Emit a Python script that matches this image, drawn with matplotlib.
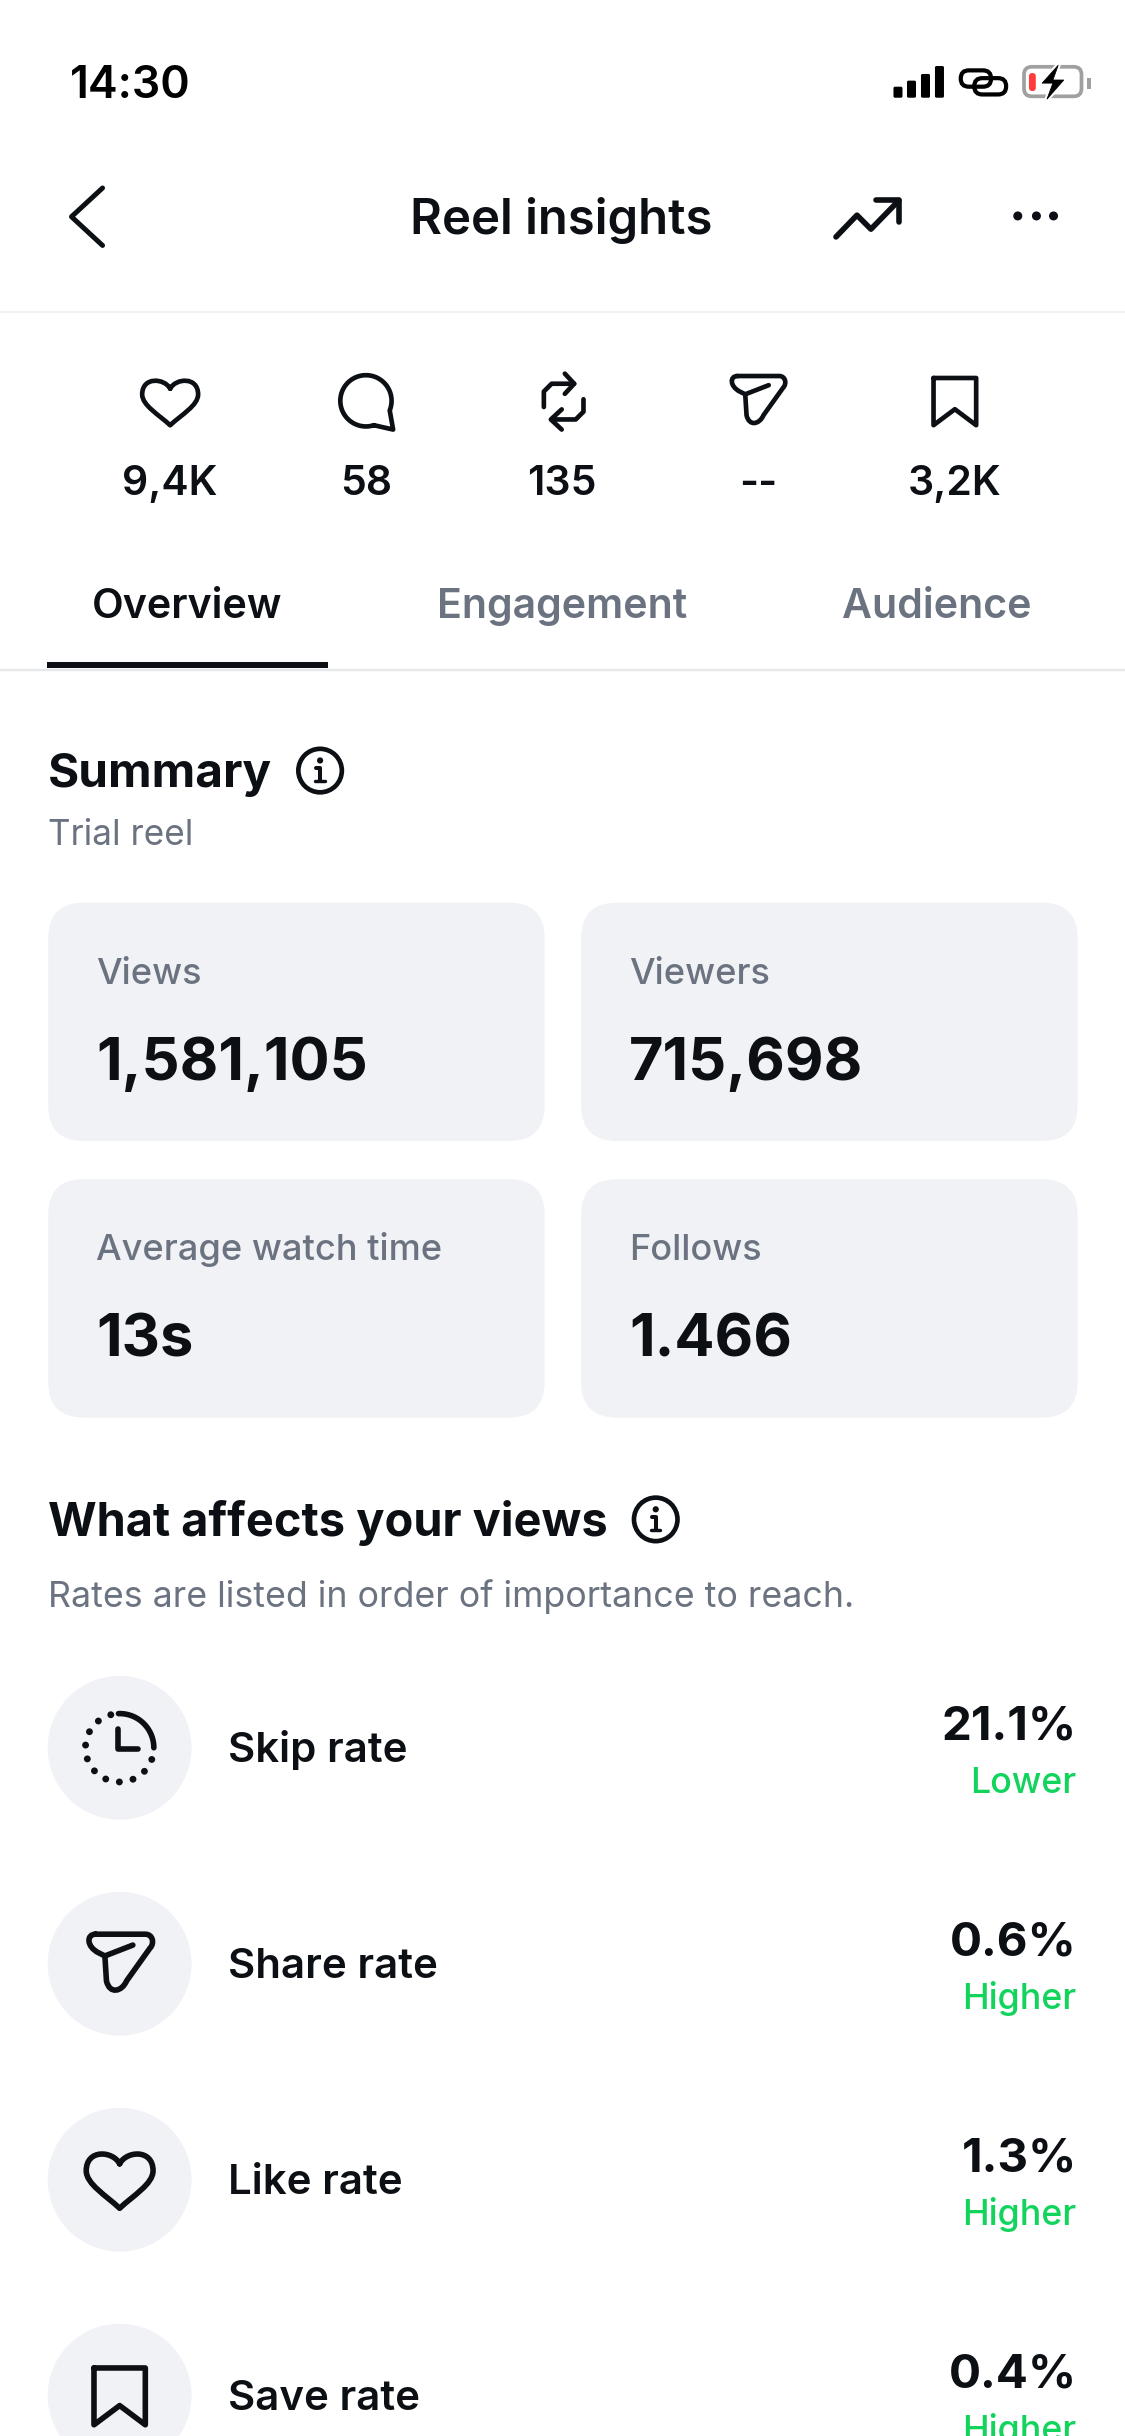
import numpy as np
import matplotlib
matplotlib.use('Agg')
import matplotlib.pyplot as plt
from matplotlib.patches import FancyBboxPatch, Circle, PathPatch, Polygon, Rectangle
from matplotlib.path import Path

plt.rcParams['font.family'] = ['Inter', 'DejaVu Sans']

# values
status_time = '14:30'
page_title = 'Reel insights'
stat_values = ['9,4K', '58', '135', '--', '3,2K']
tab_names = ['Overview', 'Engagement', 'Audience']
card_titles = ['Views', 'Viewers', 'Average watch time', 'Follows']
card_values = ['1,581,105', '715,698', '13s', '1.466']
rate_names = ['Skip rate', 'Share rate', 'Like rate', 'Save rate']
rate_values = ['21.1%', '0.6%', '1.3%', '0.4%']
rate_notes = ['Lower', 'Higher', 'Higher', 'Higher']

INK = '#0c1014'
GREY = '#6b7380'
CARD = '#f1f2f6'
LINE = '#e6e8ec'
GREEN = '#12d45c'

K = 1125 / 724.


def fs(px):
    return px * K * 0.72


def lw(px):
    return px * K * 0.72


fig = plt.figure(figsize=(11.25, 24.36), dpi=100, facecolor='white')
ax = fig.add_axes([0, 0, 1, 1])
ax.set_xlim(0, 724)
ax.set_ylim(1568, 0)
ax.axis('off')


def txt(x, y, s, px, color=INK, weight='normal', ha='left'):
    ax.text(x, y, s, fontsize=fs(px), color=color, fontweight=weight, ha=ha, va='baseline')


def stroke(xs, ys, w=3.0, color=INK):
    ax.plot(xs, ys, color=color, lw=lw(w), solid_capstyle='round', solid_joinstyle='round')


def curve(verts, codes, w=3.0, color=INK):
    ax.add_patch(PathPatch(Path(verts, codes), fc='none', ec=color, lw=lw(w), joinstyle='round', capstyle='round'))


def heart(cx, cy, sx, sy, w=3.0):
    v = np.array([(0, -.55), (-.2, -.98), (-1, -1.05), (-1, -.32),
                  (-1, .12), (-.4, .5), (0, .92),
                  (.4, .5), (1, .12), (1, -.32),
                  (1, -1.05), (.2, -.98), (0, -.55)])
    c = [Path.MOVETO] + [Path.CURVE4] * 12
    curve(np.c_[cx + v[:, 0] * sx, cy + v[:, 1] * sy], c, w)


def bubble(cx, cy, r, w=3.0):
    a = np.radians(np.linspace(72, 382, 60))
    x = cx + r * np.cos(a)
    y = cy + r * np.sin(a)
    x = np.r_[x, cx + r + 1, x[0]]
    y = np.r_[y, cy + r + 2, y[0]]
    stroke(x, y, w)


def repost(cx, cy, w=3.0):
    stroke([cx - 11.5, cx - 11.5, cx - 6.5, cx + 8], [cy + 4, cy - 6, cy - 11, cy - 11], w)
    stroke([cx + 2, cx + 8, cx + 2], [cy - 17.5, cy - 11, cy - 4.5], w)
    stroke([cx + 14, cx + 14, cx + 9, cx - 6], [cy - 1, cy + 7, cy + 12, cy + 12], w)
    stroke([cx, cx - 7, cx], [cy + 5.5, cy + 12, cy + 18.5], w)


def send(cx, cy, s=1.0, w=3.0):
    v = np.array([(-16, -19), (16, -19), (21, -19), (22, -13), (19, -10),
                  (4, 11), (1, 18), (-7, 20), (-9, 11), (-10, -5), (-10, -5),
                  (-14, -7), (-22, -11), (-22, -19), (-16, -19)], float)
    x = cx + v[:, 0] * s
    y = cy + v[:, 1] * s
    c = [Path.MOVETO, Path.LINETO, Path.CURVE4, Path.CURVE4, Path.CURVE4,
         Path.LINETO, Path.CURVE4, Path.CURVE4, Path.CURVE4, Path.LINETO, Path.LINETO,
         Path.LINETO, Path.CURVE4, Path.CURVE4, Path.CURVE4]
    curve(np.c_[x, y], c, w)
    stroke([cx - 10 * s, cx + 8 * s], [cy - 5 * s, cy - 12 * s], w)


def bookmark(cx, cy, s=1.0, w=3.0):
    x = cx + np.array([-14, 14, 14, 0, -14, -14]) * s
    y = cy + np.array([-15.5, -15.5, 15.5, 5, 15.5, -15.5]) * s
    stroke(x, y, w)


def info(cx, cy):
    ax.add_patch(Circle((cx, cy), 14, fc='none', ec=INK, lw=lw(3)))
    ax.add_patch(Circle((cx, cy - 6.5), 2, fc=INK, ec='none'))
    stroke([cx - 2.5, cx, cx], [cy - 1.5, cy - 1.5, cy + 7], 2.6)
    stroke([cx - 3, cx + 3], [cy + 7, cy + 7], 2.2)


def clock(cx, cy):
    r = 22
    a = np.radians(np.linspace(-92, 0, 30))
    stroke(cx + r * np.cos(a), cy + r * np.sin(a), 3.6)
    for d in np.linspace(20, 255, 11):
        t = np.radians(d)
        ax.add_patch(Circle((cx + r * np.cos(t), cy + r * np.sin(t)), 2.2, fc=INK, ec='none'))
    stroke([cx - 1, cx - 1, cx + 12], [cy - 12, cy + 1, cy + 1], 3.6)


# status bar
txt(45, 63, status_time, 28.8, '#000000', 'semibold')
for x0, top in zip([575, 583.7, 592.7, 601.7], [55.8, 51.9, 47.6, 42.5]):
    ax.add_patch(FancyBboxPatch((x0 + 1, top + 1), 3.8, 62.9 - top - 2, boxstyle='round,pad=1', fc='black', ec='none'))
ax.add_patch(FancyBboxPatch((618.3, 45.3), 19.5, 10.5, boxstyle='round,pad=0,rounding_size=5.2', fc='none', ec='black', lw=lw(2.7)))
ax.add_patch(FancyBboxPatch((627, 50.3), 20.5, 10.5, boxstyle='round,pad=0,rounding_size=5.2', fc='none', ec='black', lw=lw(2.7)))
ax.add_patch(FancyBboxPatch((659, 43), 37, 19, boxstyle='round,pad=0,rounding_size=5', fc='none', ec='#a0a0a0', lw=lw(2.4)))
ax.add_patch(FancyBboxPatch((662.2, 47), 4.4, 11.6, boxstyle='round,pad=0,rounding_size=2.2', fc='#ff3b3b', ec='none'))
ax.add_patch(Rectangle((699.8, 50.5), 2, 6.5, fc='#a0a0a0', ec='none'))
bolt = [(681, 42), (670.7, 53.5), (677.6, 53.5), (673.8, 63.8), (684.6, 51.5), (677.6, 51.5)]
ax.add_patch(Polygon(bolt, closed=True, fc='white', ec='white', lw=lw(3.2), joinstyle='round', zorder=4))
ax.add_patch(Polygon(bolt, closed=True, fc='black', ec='black', lw=lw(0.5), joinstyle='round', zorder=5))

# header
stroke([66, 46, 66], [121, 139.5, 158], 3.2)
txt(361, 150.5, page_title, 31.6, INK, 'semibold', 'center')
stroke([538, 551.5, 560.5, 578.5], [152.5, 138.5, 147.5, 129], 3.6)
stroke([564, 578.5, 578.5], [129, 129, 143], 3.6)
for x0 in [655, 667, 678]:
    ax.add_patch(Circle((x0, 139), 2.9, fc=INK, ec='none'))
ax.plot([0, 724], [201, 201], color='#f0f1f3', lw=lw(1.3))

# counters row
stat_x = [109.5, 235.5, 361.5, 488, 614.5]
heart(stat_x[0], 259, 18, 16)
bubble(stat_x[1], 258, 16.5)
repost(stat_x[2], 258)
send(stat_x[3], 258, 0.84)
bookmark(stat_x[4], 258.5, 0.98)
for x0, s in zip(stat_x, stat_values):
    txt(x0, 318.5, s, 26.4, INK, 'semibold', 'center')

# tabs
tab_x = [120.5, 361.5, 603]
for i, (x0, s) in enumerate(zip(tab_x, tab_names)):
    txt(x0, 397.5, s, 26.5, INK if i == 0 else GREY, 'semibold', 'center')
ax.plot([0, 724], [431, 431], color=LINE, lw=lw(1.5))
ax.add_patch(Rectangle((30, 426), 181, 4, fc=INK, ec='none'))

# summary
txt(31, 506.5, 'Summary', 30.7, INK, 'bold')
info(206, 496)
txt(31, 544, 'Trial reel', 22.6, GREY)
card_x = [31, 374]
card_y = [581, 759]
for i in range(4):
    x0 = card_x[i % 2]
    y0 = card_y[i // 2]
    ax.add_patch(FancyBboxPatch((x0, y0), 319.5, 153.5, boxstyle='round,pad=0,rounding_size=23', fc=CARD, ec='none'))
    txt(x0 + 31, y0 + 52.3, card_titles[i], 23.3, GREY, 'medium')
    txt(x0 + 31, y0 + 114.3, card_values[i], 38.3, INK, 'bold')

# what affects your views
txt(31, 989, 'What affects your views', 30.2, INK, 'bold')
info(422, 978)
txt(31, 1034.5, 'Rates are listed in order of importance to reach.', 23, GREY)

row_y = [1125, 1264, 1403, 1542]
for i, y0 in enumerate(row_y):
    ax.add_patch(Circle((77, y0), 46.3, fc=CARD, ec='none'))
    txt(147, y0 + 9.2, rate_names[i], 27, INK, 'semibold')
    txt(693, y0 - 5.5, rate_values[i], 30.6, INK, 'bold', 'right')
    txt(692.5, y0 + 29, rate_notes[i], 23, GREEN, 'medium', 'right')
clock(77, 1125)
send(77.5, 1264, 1.0, 3.6)
heart(77, 1403.5, 21.5, 19.5, 3.6)
bookmark(77, 1542.5, 1.18, 3.6)

fig.savefig('out.png', dpi=100, facecolor='white')
